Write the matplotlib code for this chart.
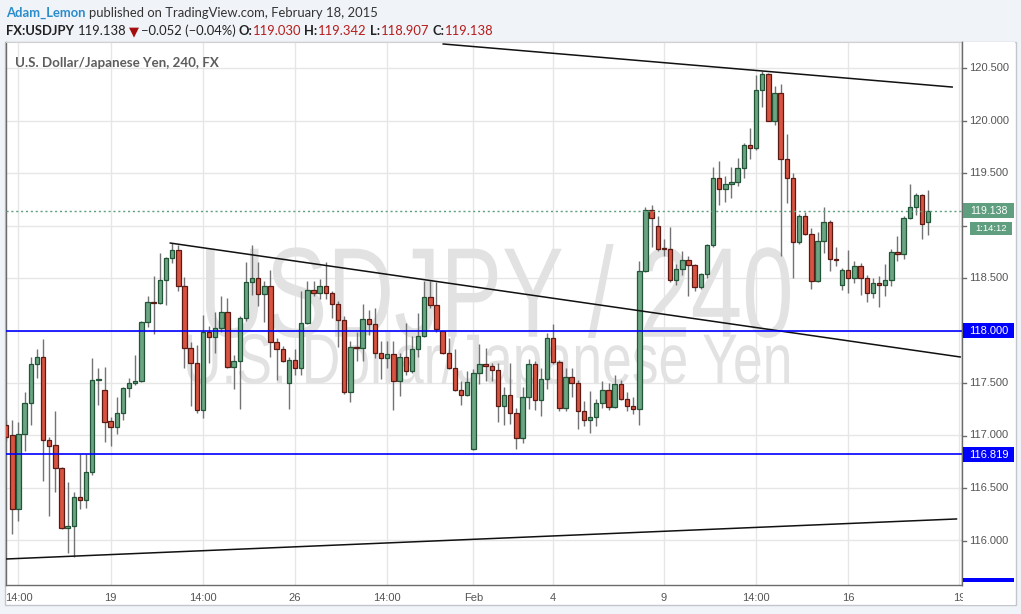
import matplotlib
matplotlib.use("Agg")
import matplotlib.pyplot as plt
import numpy as np
from matplotlib.patches import Rectangle, PathPatch
from matplotlib.lines import Line2D
from matplotlib.textpath import TextPath
from matplotlib.font_manager import FontProperties
from matplotlib.transforms import Affine2D, IdentityTransform, blended_transform_factory

# ---------------- data (4h bars, USDJPY) ----------------
opens = [117.10, 117.00, 116.30, 117.01, 117.31, 117.68, 117.75, 116.96, 116.91, 116.69,
         116.12, 116.14, 116.41, 116.39, 116.65, 117.53, 117.43, 117.14, 117.08, 117.21,
         117.45, 117.50, 117.52, 118.08, 118.27, 118.26, 118.48, 118.69, 118.77, 118.42,
         117.83, 117.69, 117.24, 117.99, 117.94, 118.02, 118.18, 117.65, 117.71, 118.12,
         118.46, 118.50, 118.35, 118.42, 117.89, 117.82, 117.50, 117.72, 117.64, 118.07,
         118.39, 118.36, 118.42, 118.36, 118.25, 118.10, 117.41, 117.84, 117.83, 118.11,
         118.06, 117.79, 117.74, 117.78, 117.52, 117.75, 117.61, 117.82, 117.95, 118.32,
         118.24, 118.00, 117.79, 117.64, 117.43, 117.39, 116.87, 117.60, 117.68, 117.66,
         117.62, 117.28, 117.39, 117.21, 116.98, 117.37, 117.68, 117.34, 117.54, 117.93,
         117.70, 117.26, 117.56, 117.50, 117.23, 117.15, 117.18, 117.31, 117.43, 117.27,
         117.49, 117.35, 117.28, 117.25, 118.57, 119.15, 119.00, 118.79, 118.78, 118.48,
         118.59, 118.67, 118.62, 118.41, 118.54, 118.81, 119.45, 119.35, 119.40, 119.41,
         119.55, 119.77, 119.74, 120.29, 120.44, 120.00, 120.26, 119.63, 119.45, 118.84,
         119.09, 118.92, 118.47, 118.85, 119.03, 118.68, 118.43, 118.58, 118.50, 118.61,
         118.50, 118.36, 118.45, 118.43, 118.48, 118.75, 118.73, 119.07, 119.18, 119.29,
         119.030]
highs = [117.15, 117.15, 117.13, 117.41, 117.75, 117.82, 117.92, 116.99, 117.23, 116.70,
         116.56, 116.46, 116.82, 116.82, 117.74, 117.64, 117.65, 117.18, 117.37, 117.46,
         117.55, 117.77, 118.09, 118.33, 118.52, 118.74, 118.70, 118.83, 118.81, 118.51,
         117.89, 117.86, 118.15, 118.04, 118.18, 118.33, 118.31, 117.77, 118.14, 118.65,
         118.81, 118.65, 118.47, 118.58, 117.93, 117.85, 117.75, 117.82, 118.38, 118.47,
         118.47, 118.49, 118.65, 118.38, 118.28, 118.14, 117.90, 117.99, 118.25, 118.20,
         118.21, 117.90, 117.90, 117.90, 117.79, 118.07, 117.95, 118.17, 118.47, 118.47,
         118.46, 118.00, 117.93, 117.82, 117.52, 117.61, 117.63, 117.87, 117.83, 117.69,
         117.69, 117.46, 117.69, 117.26, 117.46, 117.73, 117.71, 117.64, 117.98, 118.06,
         117.72, 117.64, 117.64, 117.53, 117.33, 117.42, 117.35, 117.52, 117.50, 117.58,
         117.53, 117.41, 117.37, 118.66, 119.18, 119.20, 119.09, 118.87, 118.99, 118.63,
         118.76, 118.71, 118.63, 118.55, 118.82, 119.56, 119.61, 119.47, 119.56, 119.64,
         119.79, 119.93, 120.43, 120.47, 120.45, 120.33, 120.35, 119.87, 119.50, 119.11,
         119.13, 118.98, 118.94, 119.18, 119.05, 118.80, 118.60, 118.77, 118.66, 118.64,
         118.53, 118.50, 118.52, 118.63, 118.78, 118.90, 119.09, 119.40, 119.31, 119.30,
         119.342]
lows = [116.95, 116.06, 116.19, 116.85, 117.10, 117.55, 116.57, 116.23, 116.46, 116.11,
        115.88, 115.84, 116.30, 116.31, 116.62, 117.29, 116.94, 116.90, 117.01, 117.15,
        117.37, 117.48, 117.51, 118.03, 117.97, 118.25, 118.24, 118.64, 118.38, 117.64,
        117.28, 117.21, 117.17, 117.69, 117.79, 117.99, 117.64, 117.44, 117.25, 118.09,
        118.34, 118.23, 118.08, 117.75, 117.53, 117.70, 117.25, 117.58, 117.58, 118.06,
        118.33, 118.30, 118.30, 118.12, 117.84, 117.40, 117.32, 117.71, 117.71, 117.96,
        117.74, 117.54, 117.64, 117.24, 117.38, 117.58, 117.60, 117.75, 117.94, 118.21,
        117.99, 117.78, 117.63, 117.42, 117.29, 117.38, 116.86, 117.49, 117.52, 117.52,
        117.13, 117.10, 117.11, 116.87, 116.93, 117.25, 117.24, 117.19, 117.44, 117.68,
        117.23, 117.23, 117.37, 117.06, 117.09, 117.02, 117.09, 117.26, 117.24, 117.26,
        117.34, 117.23, 117.20, 117.10, 118.56, 118.80, 118.76, 118.71, 118.46, 118.43,
        118.53, 118.33, 118.38, 118.40, 118.50, 118.80, 119.20, 119.22, 119.26, 119.38,
        119.45, 119.63, 119.72, 120.13, 120.00, 119.96, 118.71, 119.21, 118.50, 118.82,
        118.91, 118.40, 118.46, 118.74, 118.57, 118.61, 118.39, 118.36, 118.45, 118.34,
        118.27, 118.31, 118.22, 118.33, 118.42, 118.66, 118.68, 119.06, 119.10, 118.87,
        118.907]
closes = [116.99, 116.30, 117.01, 117.31, 117.68, 117.75, 116.96, 116.90, 116.69, 116.12,
          116.14, 116.41, 116.39, 116.65, 117.53, 117.54, 117.13, 117.08, 117.21, 117.45,
          117.50, 117.52, 118.08, 118.27, 118.26, 118.48, 118.69, 118.77, 118.42, 117.83,
          117.69, 117.24, 117.99, 117.94, 118.02, 118.18, 117.65, 117.71, 118.12, 118.46,
          118.50, 118.35, 118.42, 117.89, 117.82, 117.71, 117.72, 117.64, 118.07, 118.39,
          118.36, 118.42, 118.36, 118.25, 118.10, 117.41, 117.84, 117.83, 118.11, 118.06,
          117.79, 117.74, 117.78, 117.52, 117.75, 117.61, 117.82, 117.95, 118.32, 118.24,
          118.01, 117.79, 117.64, 117.43, 117.39, 117.51, 117.60, 117.68, 117.66, 117.62,
          117.28, 117.39, 117.21, 116.98, 117.37, 117.68, 117.34, 117.54, 117.93, 117.70,
          117.26, 117.56, 117.50, 117.23, 117.15, 117.18, 117.31, 117.43, 117.27, 117.49,
          117.35, 117.28, 117.25, 118.57, 119.15, 119.07, 118.78, 118.78, 118.48, 118.59,
          118.67, 118.62, 118.41, 118.54, 118.81, 119.45, 119.35, 119.40, 119.41, 119.55,
          119.77, 119.74, 120.29, 120.44, 120.00, 120.26, 119.63, 119.45, 118.84, 119.09,
          118.92, 118.47, 118.85, 119.03, 118.68, 118.67, 118.58, 118.50, 118.61, 118.50,
          118.36, 118.45, 118.43, 118.48, 118.75, 118.73, 119.07, 119.18, 119.29, 119.01,
          119.138]

tick_bars = [2, 17, 32, 47, 62, 76, 89, 107, 122, 137, 155]
tick_labels = ["14:00", "19", "14:00", "26", "14:00", "Feb", "4", "9", "14:00", "16", "19"]
price_levels = [116.0, 116.5, 117.0, 117.5, 118.0, 118.5, 119.0, 119.5, 120.0, 120.5]

# trend lines: (bar, price) end points
trend_top = [(71.1, 120.729), (153.9, 120.319)]
trend_mid = [(26.7, 118.833), (155.2, 117.748)]
trend_low = [(0.1, 115.824), (154.6, 116.205)]
hline_resist = 118.000
hline_support = 116.819
last_price = 119.138
countdown = "1:14:12"

# ---------------- figure ----------------
W, H = 1021, 614
fig = plt.figure(figsize=(W / 100, H / 100), dpi=100)
fig.patch.set_facecolor('#f0f3f7')

def fx(px):
    return px / W

def fy(py):
    return 1 - py / H

def price_to_px(p):
    return 68 + (120.5 - p) * 105

# outer chart frame
fig.add_artist(Rectangle((fx(5), fy(605)), fx(1016) - fx(5), fy(42) - fy(605),
                         transform=fig.transFigure, fc='white', ec='#c3c6cc', lw=1, zorder=-5))

X0, X1, Y0, Y1 = 6, 962, 42, 585
ax = fig.add_axes([fx(X0), fy(Y1), fx(X1) - fx(X0), fy(Y0) - fy(Y1)])
ax.set_facecolor('white')
ax.set_xlim(-0.03, 155.5)
ax.set_ylim(115.576, 120.748)

o = np.array(opens); h = np.array(highs); l = np.array(lows); c = np.array(closes)
idx = np.arange(len(o))
up = c >= o
diff = np.abs(c - o)
bh = np.maximum(diff, 0.011)
bottom = np.minimum(o, c) - (bh - diff) / 2

ax.vlines(idx, l, h, color='#737375', lw=1.0, zorder=2)
ax.bar(idx, bh, bottom=bottom, width=0.72,
       color=np.where(up, '#6ba583', '#d75442'),
       edgecolor=np.where(up, '#225437', '#5b1a13'), linewidth=0.9, zorder=3)

# grid
ax.set_yticks(price_levels)
ax.set_xticks(tick_bars)
ax.set_xticklabels(tick_labels, fontsize=8, color='#555555', family='Liberation Sans')
ax.tick_params(axis='x', length=0, pad=5.5)
ax.tick_params(axis='y', length=0, labelleft=False)
ax.grid(True, color='#e6e6e6', lw=1)
ax.set_axisbelow(True)
for side in ['left', 'bottom', 'right']:
    ax.spines[side].set_color('#6b6b6b')
    ax.spines[side].set_linewidth(1)
ax.spines['top'].set_color('#d0d0d0')

# watermark
def watermark(s, box, color):
    x0, ytop, x1, ybot = box
    tp = TextPath((0, 0), s, size=100, prop=FontProperties(family='Liberation Sans'))
    bb = tp.get_extents()
    tr = (Affine2D().translate(-bb.x0, -bb.y0)
          .scale((x1 - x0) / bb.width, (ybot - ytop) / bb.height)
          .translate(x0, H - ybot))
    patch = PathPatch(tr.transform_path(tp), fc=color, ec='none',
                      transform=IdentityTransform(), zorder=1)
    ax.add_artist(patch)

watermark("USDJPY / 240", (206, 244, 790, 338), '#e2e2e2')
watermark("U.S. Dollar/Japanese Yen", (187, 332, 789, 398), '#e2e2e2')

# lines
for (a, b) in [trend_top, trend_mid, trend_low]:
    ax.plot([a[0], b[0]], [a[1], b[1]], color='#111111', lw=1.1, zorder=4)
ax.axhline(hline_resist, color='#0000ff', lw=1.2, zorder=4)
ax.axhline(hline_support, color='#0000ff', lw=1.2, zorder=4)
ax.axhline(last_price, color='#5f9e7e', lw=1, ls=(0, (1.5, 2)), zorder=4)

# price panel
PX0, PX1 = 963, 1015
pan = fig.add_axes([fx(PX0), fy(605), fx(PX1) - fx(PX0), fy(42) - fy(605)])
pan.set_facecolor('white')
pan.set_xlim(0, 1)
pan.set_ylim(120.5 - (605 - 68) / 105, 120.5 - (42 - 68) / 105)
pan.set_xticks([]); pan.set_yticks([])
for s in pan.spines.values():
    s.set_visible(False)
tr = blended_transform_factory(pan.transAxes, pan.transData)

def px2(xp):
    return (xp - PX0) / (PX1 - PX0)

# label boxes (centre pixel rows) hide the scale labels they cover
boxes = [
    (price_to_px(last_price) - 0.5, f"{last_price:.3f}", '#5f9e7e', 963, 1014, 15, 7.6),
    (price_to_px(last_price) + 17.0, countdown, '#5f9e7e', 970, 1012, 13, 6.8),
    (price_to_px(hline_resist), f"{hline_resist:.3f}", '#0000ff', 963, 1014, 15, 8),
    (price_to_px(hline_support), f"{hline_support:.3f}", '#0000ff', 963, 1014, 15, 8),
]

for lv in price_levels:
    pan.plot([px2(963), px2(966)], [lv, lv], color='#6b6b6b', lw=1, transform=tr, clip_on=False)
    ypx = price_to_px(lv)
    if any(abs(ypx - b[0]) < 12 for b in boxes):
        continue
    pan.text(px2(969), lv, f"{lv:.3f}", transform=tr, fontsize=8, color='#555555',
             family='Liberation Sans', va='center', ha='left')

for ypix, s, fc, x0, x1, hpx, fs in boxes:
    fig.add_artist(Rectangle((fx(x0), fy(ypix + hpx / 2)), fx(x1) - fx(x0), hpx / H,
                             transform=fig.transFigure, fc=fc, ec='none', zorder=5))
    fig.text(fx((x0 + x1) / 2), fy(ypix), s, color='white', fontsize=fs,
             family='Liberation Sans', ha='center', va='center', zorder=6)

fig.add_artist(Rectangle((fx(963), fy(582)), fx(1014) - fx(963), 4 / H,
                         transform=fig.transFigure, fc='#0000ff', ec='none', zorder=5))

# separator between plot and price scale
fig.add_artist(Line2D([fx(962), fx(962)], [fy(42), fy(585)], color='#6b6b6b', lw=1,
                      transform=fig.transFigure))

# header
hdr_font = ['Lato', 'DejaVu Sans']
renderer = fig.canvas.get_renderer()

def flow_line(x0, x1, y, pieces, base=10):
    """Lay pieces out left to right, scaled so the whole line spans x0..x1."""
    texts = []
    widths = []
    for s, kw, gap in pieces:
        t = fig.text(0, 0, s, fontsize=base, family=hdr_font, va='center_baseline',
                     ha='left', **kw)
        widths.append(t.get_window_extent(renderer).width)
        texts.append(t)
    sp = fig.text(0, 0, " ", fontsize=base, family=hdr_font)
    spw = sp.get_window_extent(renderer).width
    sp.remove()
    gaps = [g * spw for _, _, g in pieces]
    total = sum(widths) + sum(gaps[:-1])
    k = (x1 - x0) / total
    cur = x0
    for t, w, g in zip(texts, widths, gaps):
        t.set_fontsize(base * k)
        t.set_position((fx(cur), fy(y)))
        cur += (w + g) * k
    return texts

DARK = '#222222'
RED = '#b71c1c'
flow_line(6, 378, 12, [
    ("Adam_Lemon", dict(color='#2b8ccc', weight='bold'), 1.0),
    ("published on TradingView.com, February 18, 2015", dict(color='#333333'), 0),
])
flow_line(6, 493, 30, [
    ("FX:USDJPY", dict(color=DARK, weight='bold'), 1.2),
    ("119.138", dict(color=DARK), 0.8),
    ("\u25BC", dict(color='#a50e0e'), 0.5),
    ("\u22120.052 (\u22120.04%)", dict(color=DARK), 0.9),
    ("O:", dict(color=DARK, weight='bold'), 0.1),
    ("119.030", dict(color=RED), 1.0),
    ("H:", dict(color=DARK, weight='bold'), 0.1),
    ("119.342", dict(color=RED), 1.0),
    ("L:", dict(color=DARK, weight='bold'), 0.1),
    ("118.907", dict(color=RED), 1.0),
    ("C:", dict(color=DARK, weight='bold'), 0.1),
    ("119.138", dict(color=RED), 0),
])
flow_line(15, 219, 62, [
    ("U.S. Dollar/Japanese Yen, 240, FX", dict(color='#5d5d5d', weight='bold'), 0),
])

fig.savefig("out.png", dpi=100, facecolor=fig.get_facecolor())
